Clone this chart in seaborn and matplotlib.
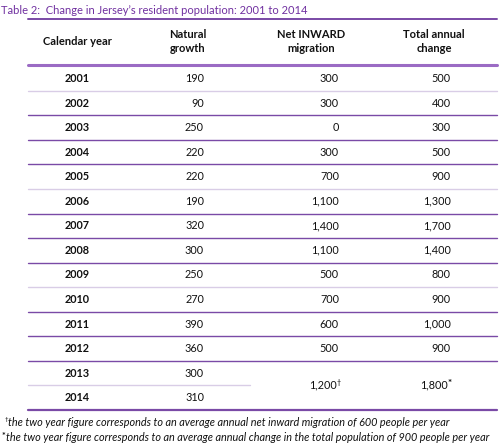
import matplotlib
matplotlib.use("Agg")
import matplotlib.pyplot as plt
import seaborn as sns

# table data
title = "Table 2:  Change in Jersey\u2019s resident population: 2001 to 2014"
headers = ["Calendar year", "Natural\ngrowth", "Net INWARD\nmigration", "Total annual\nchange"]
years = ["2001", "2002", "2003", "2004", "2005", "2006", "2007",
         "2008", "2009", "2010", "2011", "2012", "2013", "2014"]
natural = ["190", "90", "250", "220", "220", "190", "320",
           "300", "250", "270", "390", "360", "300", "310"]
migration = ["300", "300", "0", "300", "700", "1,100", "1,400",
             "1,100", "500", "700", "600", "500"]
total = ["500", "400", "300", "500", "900", "1,300", "1,700",
         "1,400", "800", "900", "1,000", "900"]
merged_migration = "1,200"
merged_total = "1,800"
footnotes = [
    "the two year figure corresponds to an average annual net inward migration of 600 people per year",
    "the two year figure corresponds to an average annual change in the total population of 900 people per year",
]
footnote_marks = ["\u2020", "*"]

sns.set_theme(style="white")
plt.rcParams["font.family"] = ["Lato", "DejaVu Sans"]

PURPLE = "#7a4aa6"
LIGHT = "#d9cde6"
TITLE_C = "#7030a0"
INK = "#111111"

fig = plt.figure(figsize=(5.04, 4.46), dpi=100)
ax = fig.add_axes([0, 0, 1, 1])
ax.set_xlim(0, 504)
ax.set_ylim(446, 0)
ax.axis("off")

x0, x1 = 28, 497
row0, step = 78.5, 24.55
fs = 7.8

ax.text(1, 10, title, color=TITLE_C, fontsize=8.0, va="center", ha="left")
ax.plot([x0, x1], [19, 19], color=PURPLE, lw=1.4)

hx = [77, 188, 311, 434]
for x, h in zip(hx, headers):
    ax.text(x, 41.5, h, fontsize=8.0, fontweight="bold", ha="center", va="center",
            linespacing=1.4, color=INK)
ax.plot([x0, x1], [65, 65], color="#9b6bc4", lw=2.2)

for i, yr in enumerate(years):
    y = row0 + step * i
    ax.text(77, y, yr, fontsize=fs, fontweight="bold", ha="center", va="center", color=INK)
    ax.text(204, y, natural[i], fontsize=fs, ha="right", va="center", color=INK)
    if i < len(migration):
        ax.text(339, y, migration[i], fontsize=fs, ha="right", va="center", color=INK)
        ax.text(451, y, total[i], fontsize=fs, ha="right", va="center", color=INK)
    yl = y + step / 2
    if i == len(years) - 1:
        ax.plot([x0, x1], [yl, yl], color=PURPLE, lw=1.6)
    elif i == len(years) - 2:
        ax.plot([x0, 250], [yl, yl], color=LIGHT, lw=1.0)
    elif i % 4 == 0:
        ax.plot([x0, x1], [yl, yl], color=LIGHT, lw=1.0)
    else:
        ax.plot([x0, x1], [yl, yl], color=PURPLE, lw=1.0)

ym = row0 + step * 12.5
ax.text(337, ym, merged_migration, fontsize=fs, ha="right", va="center", color=INK)
ax.text(337, ym - 3, "\u2020", fontsize=5, ha="left", va="center", color=INK)
ax.text(448, ym, merged_total, fontsize=fs, ha="right", va="center", color=INK)
ax.text(448, ym - 1.5, "*", fontsize=7, fontweight="bold", ha="left", va="center", color=INK)

for k, (mark, fn) in enumerate(zip(footnote_marks, footnotes)):
    yk = 423 + 14.5 * k
    if mark == "\u2020":
        ax.text(5, yk - 3, mark, fontsize=4.5, ha="left", va="center", color=INK)
        xs = 8.5
    else:
        ax.text(2, yk - 1, mark, fontsize=6.5, fontweight="bold", ha="left", va="center", color=INK)
        xs = 6.5
    ax.text(xs, yk, fn, fontsize=7.85, style="italic", ha="left", va="center", color=INK)

fig.savefig("out.png", dpi=100)
